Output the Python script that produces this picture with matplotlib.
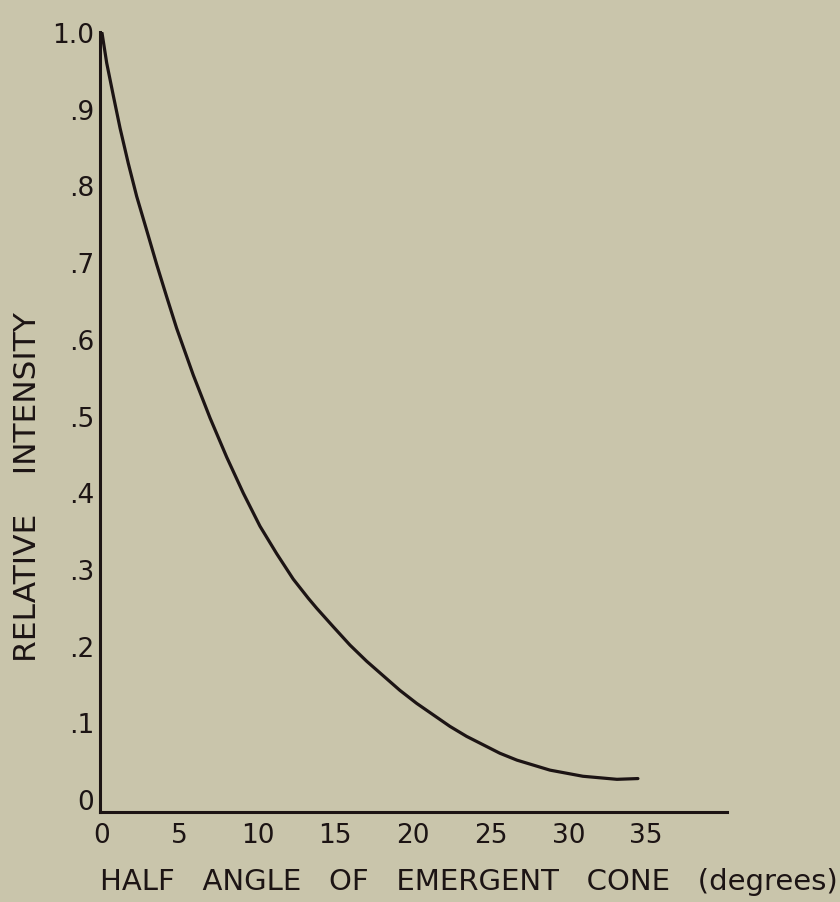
import numpy as np
import matplotlib.pyplot as plt

# curve
angle = [0.00, 0.30, 0.73, 1.16, 1.69, 2.23, 2.87, 3.52, 4.16, 4.80, 5.87,
         6.95, 8.02, 9.09, 10.16, 11.24, 12.30, 13.27, 13.81, 14.87, 15.95,
         17.02, 18.09, 19.16, 20.24, 21.31, 22.38, 23.45, 24.52, 25.59,
         26.69, 28.81, 30.93, 33.12, 34.47]
intensity = [1.000, 0.961, 0.918, 0.876, 0.830, 0.787, 0.743, 0.698, 0.656,
             0.615, 0.554, 0.498, 0.447, 0.400, 0.357, 0.321, 0.288, 0.263,
             0.250, 0.226, 0.202, 0.181, 0.162, 0.143, 0.126, 0.111, 0.096,
             0.083, 0.072, 0.061, 0.052, 0.039, 0.031, 0.027, 0.028]

xticks = [0, 5, 10, 15, 20, 25, 30, 35]
yticks = [0, .1, .2, .3, .4, .5, .6, .7, .8, .9, 1.0]
ytick_labels = ['0', '.1', '.2', '.3', '.4', '.5', '.6', '.7', '.8', '.9', '1.0']

bg = '#c9c5ab'
ink = '#1c1414'

plt.rcParams['font.family'] = ['DejaVu Sans']

fig = plt.figure(figsize=(8.4, 9.02), dpi=100, facecolor=bg)
ax = fig.add_axes([100/840, 90/902, 627/840, 780/902])
ax.set_facecolor(bg)

ax.plot(angle, intensity, color=ink, lw=2.3, solid_capstyle='round',
        solid_joinstyle='round')

ax.set_xlim(-0.13, 40.2)
ax.set_ylim(-0.0156, 1.0013)

for s in ['top', 'right']:
    ax.spines[s].set_visible(False)
for s in ['left', 'bottom']:
    ax.spines[s].set_color(ink)
    ax.spines[s].set_linewidth(2.2)

ax.set_xticks(xticks)
ax.set_xticklabels([str(t) for t in xticks])
ax.set_yticks(yticks)
ax.set_yticklabels(ytick_labels)
ax.tick_params(axis='both', length=0, labelsize=19, colors=ink)
ax.tick_params(axis='x', pad=8)
ax.tick_params(axis='y', pad=4)

ax.set_xlabel('HALF   ANGLE   OF   EMERGENT   CONE   (degrees)', fontsize=21,
              color=ink, va='center')
ax.xaxis.set_label_coords(0.589, -0.09)
ax.set_ylabel('RELATIVE    INTENSITY', fontsize=22.5, color=ink, va='center')
ax.yaxis.set_label_coords(-0.1164, 0.417)

fig.savefig('out.png', dpi=100, facecolor=bg)
